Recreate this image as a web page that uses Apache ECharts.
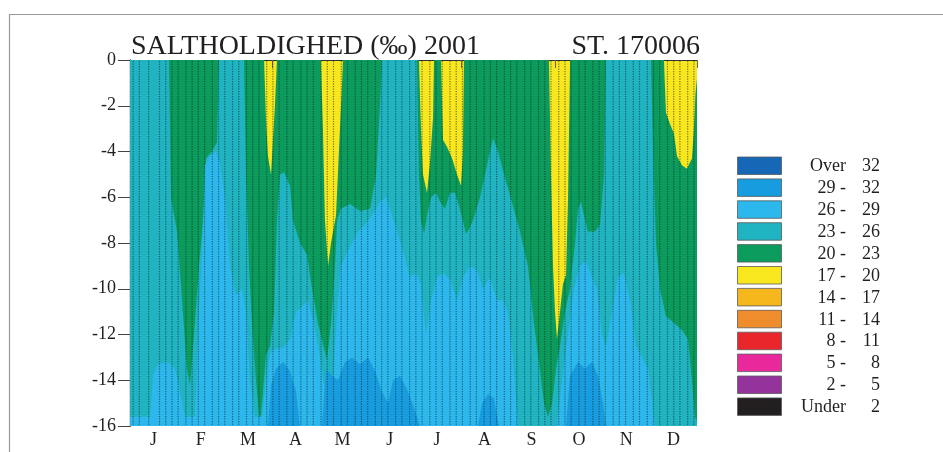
<!DOCTYPE html>
<html>
<head>
<meta charset="utf-8">
<script src="https://cdn.jsdelivr.net/npm/echarts@6/dist/echarts.min.js"></script>
<style>
  html, body { margin: 0; padding: 0; background: #ffffff; }
  #chart { width: 943px; height: 452px; }
</style>
</head>
<body>
<div id="chart"></div>
<script>
// Salinity (‰) at station 170006 during 2001, depth 0-16 m.
// Each isohaline is given as the depth (m) where salinity crosses the
// threshold, against day of year. Water above the 20 ‰ line is 17-20 ‰.

const months = ['J', 'F', 'M', 'A', 'M', 'J', 'J', 'A', 'S', 'O', 'N', 'D'];
const depthTicks = [0, -2, -4, -6, -8, -10, -12, -14, -16];

// Days of the year on which a CTD profile was taken
const sampleDays = [2, 6, 12, 19, 23, 27, 31, 36, 40, 44, 48, 53, 57, 61, 66, 70, 75, 79, 83, 88,
  92, 96, 101, 105, 110, 114, 118, 123, 127, 131, 136, 140, 145, 149, 153, 158, 162, 166, 171, 175,
  180, 184, 188, 193, 197, 201, 206, 210, 214, 219, 223, 228, 232, 236, 241, 245, 249, 254, 258, 263,
  267, 271, 276, 280, 284, 289, 293, 298, 302, 306, 311, 315, 319, 324, 328, 333, 337, 341, 346, 350,
  354, 359, 363];

// 20 ‰ isohaline
const iso20Day = [0, 86.3, 87.5, 88.8, 90.8, 92.0, 93.3, 94.6,
  122.9, 124.2, 125.5, 127.5, 129.4, 132.6, 134.5, 136.5, 137.1,
  186.0, 187.3, 188.6, 191.2, 193.1, 195.1, 195.7,
  200.2, 201.5, 204.1, 207.3, 210.5, 213.1, 214.3, 215.0,
  269.7, 271.0, 272.3, 273.6, 274.9, 276.8, 278.7, 280.7, 282.0, 283.3,
  343.7, 345.0, 347.6, 350.1, 352.1, 355.3, 358.5, 361.8, 363.0, 364.0, 365];
const iso20Depth = [0, 0, 2.5, 4.2, 5.0, 3.5, 2, 0,
  0, 3, 7, 9, 8, 6.8, 4, 1, 0,
  0, 3, 5, 5.8, 4.5, 2.5, 0,
  0, 3.5, 3.8, 4.3, 5, 5.5, 4, 0,
  0, 5, 9, 11, 12.2, 11, 9.8, 9.4, 6, 0,
  0, 2.3, 2.8, 3.2, 4.2, 4.6, 4.75, 4.3, 3, 1.5, 0.8];

// 23 ‰ isohaline
const iso23Day = [0, 25.1, 26.4, 29.0, 30.3, 33.5, 36.7, 38.6, 41.2, 44.4, 47.0, 48.3, 48.9, 52.8, 56.0, 56.6, 57.3,
  73.4, 74.7, 76.6, 78.5, 81.1, 83.7, 85.6, 87.5, 90.1, 92.7, 94.6, 96.6, 99.1, 103.0, 104.9, 109.4, 113.9,
  117.2, 121.0, 124.9, 126.8, 129.4, 132.0, 133.3, 135.8, 141.6, 148.1, 154.5, 158.4, 160.9, 162.2,
  184.7, 186.0, 187.3, 189.3, 191.2, 193.8, 197.0, 199.6, 202.8, 206.0, 209.2, 212.4, 216.3, 218.2, 220.8,
  225.3, 229.2, 233.7, 236.9, 240.8, 244.6, 251.1, 256.2, 260.0, 263.9, 266.5, 269.1, 271.7, 274.2, 276.8,
  280.0, 283.2, 286.5, 288.4, 290.3, 292.3, 294.8, 299.3, 302.6, 305.1, 306.4,
  335.4, 336.7, 338.6, 341.2, 345.0, 350.2, 355.3, 359.2, 361.8, 363.7, 365];
const iso23Depth = [0, 0, 6, 7, 7.5, 10.5, 13.5, 14.2, 12, 9, 7, 5.5, 4.3, 4.0, 3.6, 2, 0,
  0, 5, 9, 11.5, 14, 15.9, 14.5, 12.9, 12.5, 11, 7, 5, 4.9, 5.5, 7, 8, 8.5,
  10, 11.5, 12.6, 13.1, 11.5, 9, 7, 6.5, 6.3, 6.6, 6.5, 5, 2, 0,
  0, 5, 7, 7.6, 6.8, 6.0, 5.8, 6.2, 6.5, 5.8, 5.8, 6.5, 7.6, 7.4, 7.0,
  6.0, 4.8, 3.4, 4.0, 5.0, 5.9, 7.5, 9, 11.5, 13.5, 15, 15.6, 15, 13.5, 12.5,
  11, 10, 8, 6.5, 6.2, 6.8, 7.5, 7.5, 7.2, 5, 0,
  0, 4, 8, 10, 11.2, 11.5, 11.8, 12.2, 14, 15.6, 15.8];

// 26 ‰ isohaline
const iso26Day = [0, 12.9, 14.8, 18.0, 24.5, 29.0, 32.2, 35.4, 41.8, 44.4, 47.0, 48.3, 51.5, 55.4, 57.9,
  61.2, 64.4, 68.2, 72.1, 74.7, 77.2, 80.5, 85.0, 87.5, 90.1, 94.0, 98.5, 103.0, 106.9, 110.7, 114.6,
  118.4, 122.3, 125.5, 127.5, 130.7, 133.3, 135.8, 139.0, 142.9, 146.8, 151.3, 155.8, 160.9, 164.8,
  168.7, 172.5, 176.4, 180.2, 184.1, 187.3, 190.5, 193.8, 197.6, 201.5, 206.0, 210.5, 214.4, 218.9,
  223.4, 227.2, 231.7, 236.3, 240.1, 243.3, 246.5, 249.8, 274.9, 278.1, 282.0, 285.8, 289.7, 293.5,
  297.4, 300.6, 303.8, 306.4, 310.3, 314.1, 318.0, 321.9, 325.7, 329.6, 333.5, 338.0, 365];
const iso26Depth = [15.6, 15.6, 13.8, 13.3, 13.2, 13.5, 14.5, 15.6, 15.6, 11, 7.5, 4.6, 4.2, 4.0, 4.5,
  6, 9, 10.3, 10, 11, 14, 15.6, 15.6, 14, 12.8, 12.6, 12.6, 12.2, 11, 10.8, 10.5,
  11.5, 13, 14.5, 15.6, 14, 11, 9, 8.5, 8, 7.5, 7.2, 6.8, 6.2, 6.0,
  6.8, 7.6, 8.5, 9.5, 9.3, 9.8, 12, 10.5, 9.5, 9.3, 9.6, 10.5, 9.5, 9,
  9.2, 10, 9.5, 10.5, 10.5, 11, 13, 16, 16, 14, 12, 10, 9, 8.8,
  9.5, 10, 12, 12.5, 11, 9.5, 9.3, 10.5, 12.5, 13, 13.5, 16, 16];

// 29 ‰ isohaline
const iso29Day = [0, 88.8, 90.8, 94.0, 98.5, 103.0, 106.9, 109.4, 123.6, 126.2, 130.0, 133.9, 138.4,
  142.9, 148.1, 153.2, 157.7, 162.2, 166.1, 169.3, 173.8, 179.0, 182.8, 186.7, 224.0, 226.6, 230.5,
  234.3, 237.5, 280.7, 283.2, 288.4, 292.9, 297.4, 301.3, 304.5, 306.4, 365];
const iso29Depth = [16, 16, 14.2, 13.5, 13.2, 13.6, 14.5, 16, 16, 13.5, 13.8, 14, 13.2,
  13.0, 13.3, 13.0, 13.6, 14.5, 15, 14, 13.8, 14.5, 15.2, 16, 16, 15, 14.6,
  14.8, 16, 16, 13.8, 13.2, 13.5, 13.2, 13.8, 15, 16, 16];

// Colour classes (‰)
const classLabels = [['Over', '32'], ['29 -', '32'], ['26 -', '29'], ['23 -', '26'], ['20 -', '23'],
  ['17 -', '20'], ['14 -', '17'], ['11 -', '14'], ['8 -', '11'], ['5 -', '8'], ['2 -', '5'], ['Under', '2']];
const classColors = ['#1667b6', '#179ddf', '#2cb8ec', '#20b3c1', '#0b9b5d', '#f8e71e',
  '#f5b71b', '#ef8c2c', '#e8262b', '#e8289b', '#93339b', '#231f20'];

const SERIF = '"Liberation Serif", "DejaVu Serif", serif';
const TXT = '#231f20';

function isoSeries(days, depths, color, name) {
  return {
    name: name,
    type: 'line',
    xAxisIndex: 0,
    yAxisIndex: 0,
    z: 2,
    data: days.map((d, i) => [d, -depths[i]]),
    symbol: 'none',
    lineStyle: { width: 0 },
    areaStyle: { color: color, opacity: 1, origin: 'start' },
    silent: true
  };
}

const legendItems = [];
classLabels.forEach((lab, i) => {
  const top = 157 + i * 21.9;
  legendItems.push({
    type: 'rect',
    shape: { x: 737.5, y: top, width: 44, height: 17.5 },
    style: { fill: classColors[i], stroke: '#5a5a5a', lineWidth: 0.8 }
  });
  legendItems.push({
    type: 'text',
    style: { text: lab[0], x: 846, y: top + 9.5, align: 'right', verticalAlign: 'middle',
      font: '18px ' + SERIF, fill: TXT }
  });
  legendItems.push({
    type: 'text',
    style: { text: lab[1], x: 880, y: top + 9.5, align: 'right', verticalAlign: 'middle',
      font: '18px ' + SERIF, fill: TXT }
  });
});

const chart = echarts.init(document.getElementById('chart'), null, { renderer: 'canvas' });

chart.setOption({
  animation: false,
  backgroundColor: '#ffffff',
  title: [
    { text: 'SALTHOLDIGHED (‰) 2001', left: 126, top: 28,
      textStyle: { fontFamily: SERIF, fontSize: 28, fontWeight: 'normal', color: TXT } },
    { text: 'ST. 170006', right: 238, top: 28,
      textStyle: { fontFamily: SERIF, fontSize: 28, fontWeight: 'normal', color: TXT } }
  ],
  grid: {
    left: 130, top: 60, width: 567, height: 366,
    show: true, backgroundColor: classColors[5], borderWidth: 0
  },
  xAxis: [
    { type: 'value', min: 0, max: 365, show: false },
    { type: 'category', data: months, position: 'bottom', boundaryGap: true,
      axisLine: { show: true, lineStyle: { color: '#333', width: 1.2 } },
      axisTick: { show: true, length: 8, lineStyle: { color: '#666' } },
      axisLabel: { fontFamily: SERIF, fontSize: 18, color: TXT, margin: 5 },
      splitLine: { show: false } },
    { type: 'value', min: 0, max: 365, position: 'top',
      axisLine: { show: true, lineStyle: { color: '#333', width: 1.2 } },
      axisTick: { show: false }, axisLabel: { show: false }, splitLine: { show: false } }
  ],
  yAxis: [
    { type: 'value', min: -16, max: 0, interval: 2,
      axisLine: { show: true, lineStyle: { color: '#333', width: 1.2 } },
      axisTick: { show: true, length: 12, lineStyle: { color: '#444' } },
      axisLabel: { fontFamily: SERIF, fontSize: 18, color: TXT, margin: 14,
        customValues: depthTicks },
      splitLine: { show: false } },
    { type: 'value', min: -16, max: 0, position: 'right',
      axisLine: { show: true, lineStyle: { color: '#333', width: 1.2 } },
      axisTick: { show: false }, axisLabel: { show: false }, splitLine: { show: false } }
  ],
  series: [
    isoSeries(iso20Day, iso20Depth, classColors[4], '20-23'),
    isoSeries(iso23Day, iso23Depth, classColors[3], '23-26'),
    isoSeries(iso26Day, iso26Depth, classColors[2], '26-29'),
    isoSeries(iso29Day, iso29Depth, classColors[1], '29-32'),
    {
      name: 'profiles',
      type: 'custom',
      xAxisIndex: 0,
      yAxisIndex: 0,
      z: 10,
      silent: true,
      data: sampleDays.map(d => [d, 0]),
      renderItem: function (params, api) {
        const top = api.coord([api.value(0), 0]);
        const bottom = api.coord([api.value(0), -16]);
        return {
          type: 'line',
          shape: { x1: top[0], y1: top[1] + 1, x2: bottom[0], y2: bottom[1] - 1 },
          style: { stroke: 'rgba(20,30,30,0.55)', lineWidth: 1.2, lineDash: [1.2, 1.3] }
        };
      }
    }
  ],
  graphic: [
    { type: 'rect', silent: true,
      shape: { x: 9.5, y: 14.5, width: 1000, height: 500 },
      style: { fill: 'none', stroke: '#9a9a9a', lineWidth: 1.2 } },
    { type: 'group', silent: true, children: legendItems }
  ]
});
</script>
</body>
</html>
